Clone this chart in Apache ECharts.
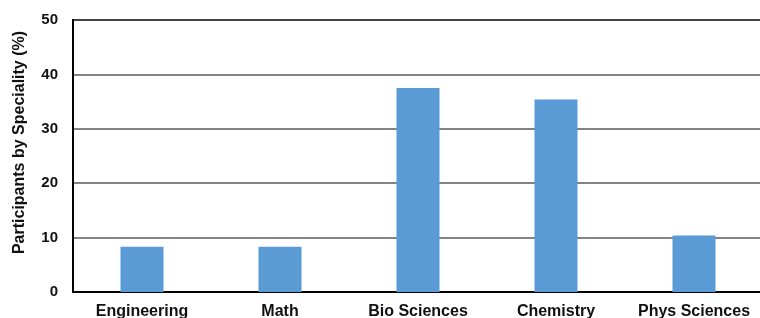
<!DOCTYPE html>
<html lang="en">
<head>
    <meta charset="UTF-8">
    <title>Participants by Speciality</title>
    <script src="https://cdn.jsdelivr.net/npm/echarts@6.0.0/dist/echarts.min.js"></script>
    <style>
        * { margin: 0; padding: 0; box-sizing: border-box; }
        body { background: #ffffff; }
        #chart { width: 760px; height: 318px; }
    </style>
</head>
<body>
    <div id="chart"></div>
    <script>
        // data
        const categories = ['Engineering', 'Math', 'Bio Sciences', 'Chemistry', 'Phys Sciences'];
        const shares = [8.3, 8.3, 37.5, 35.4, 10.4];
        const yTicks = [0, 10, 20, 30, 40, 50];

        const chart = echarts.init(document.getElementById('chart'));
        chart.setOption({
            animation: false,
            grid: {
                left: 73,
                top: 20,
                width: 690,
                height: 272,
                outerBoundsMode: 'none',
                containLabel: false,
                show: true,
                borderColor: '#000',
                borderWidth: 2,
                backgroundColor: 'transparent'
            },
            xAxis: {
                type: 'category',
                data: categories,
                axisLine: { lineStyle: { color: '#000', width: 2 } },
                axisTick: { show: false },
                axisLabel: {
                    interval: 0,
                    hideOverlap: false,
                    color: '#111',
                    fontFamily: 'Liberation Sans, Arial, sans-serif',
                    fontWeight: 'bold',
                    fontSize: 16,
                    margin: 12
                }
            },
            yAxis: {
                type: 'value',
                min: yTicks[0],
                max: yTicks[yTicks.length - 1],
                interval: 10,
                name: 'Participants by Speciality (%)',
                nameLocation: 'middle',
                nameGap: 45,
                nameTextStyle: {
                    color: '#111',
                    fontFamily: 'Liberation Sans, Arial, sans-serif',
                    fontWeight: 'bold',
                    fontSize: 16,
                    padding: [0, 0, 0, 27]
                },
                axisLine: { show: true, lineStyle: { color: '#000', width: 2 } },
                axisTick: { show: false },
                axisLabel: {
                    color: '#111',
                    fontFamily: 'Liberation Sans, Arial, sans-serif',
                    fontWeight: 'bold',
                    fontSize: 15,
                    margin: 15
                },
                splitLine: { lineStyle: { color: '#5a5a5a', width: 1.5 } }
            },
            series: [{
                type: 'bar',
                data: shares,
                barWidth: 43,
                itemStyle: { color: '#5b9bd5' }
            }]
        });
    </script>
</body>
</html>
